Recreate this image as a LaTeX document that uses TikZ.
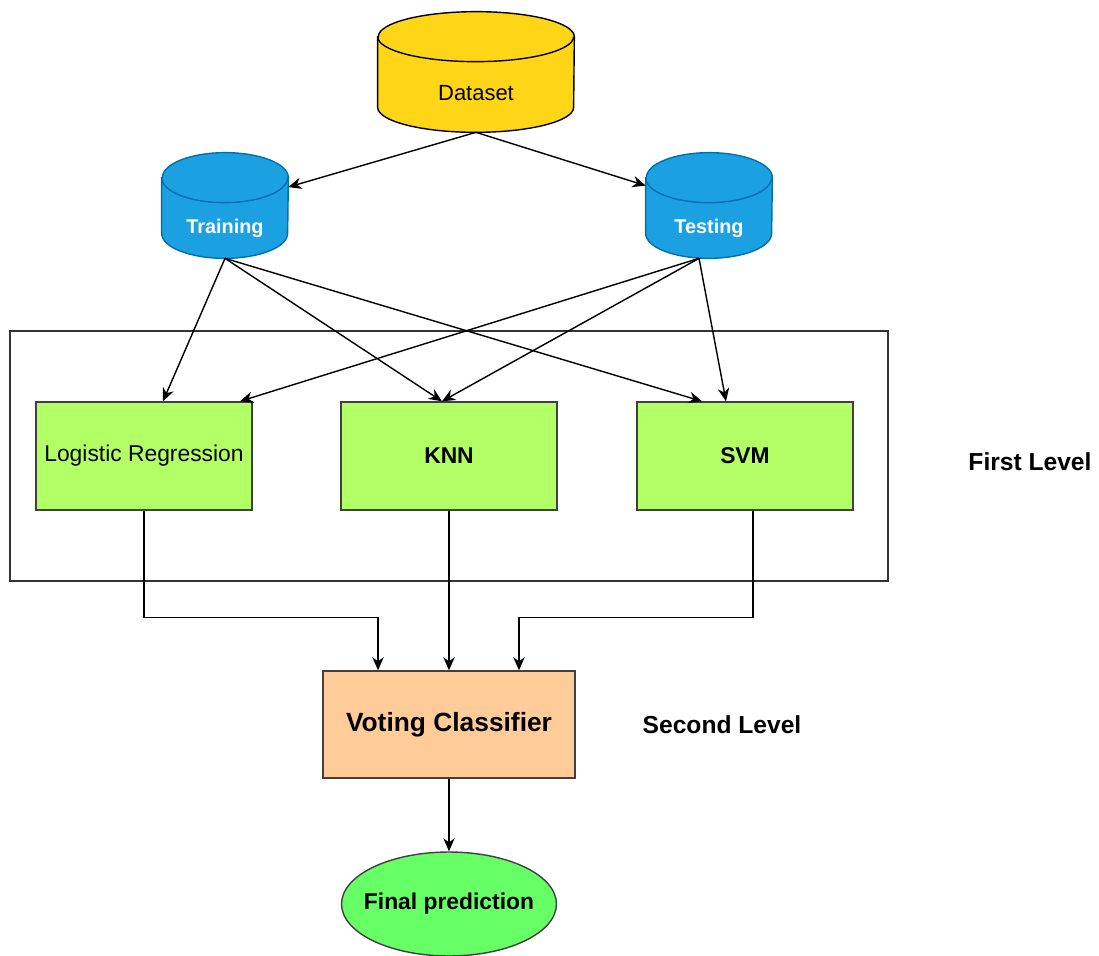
\documentclass[tikz,border=0pt]{standalone}
\usepackage{fontspec}
\setmainfont{Liberation Sans}
\usetikzlibrary{shapes.geometric, arrows.meta, positioning, calc, backgrounds}

\definecolor{dsyellow}{HTML}{FFD617}
\definecolor{splitblue}{HTML}{1BA1E2}
\definecolor{splitedge}{HTML}{006EAF}
\definecolor{modelgreen}{HTML}{B3FF66}
\definecolor{voteorange}{HTML}{FFCC99}
\definecolor{finalgreen}{HTML}{66FF66}

\begin{document}
\begin{tikzpicture}[x=0.02cm, y=-0.02cm,
        dbase/.style={rectangle, inner sep=0pt, minimum width=3.92cm, minimum height=2.4cm, text height=32pt, text depth=0pt, font=\fontsize{12.5}{14}\selectfont},
        split/.style={rectangle, inner sep=0pt, minimum width=2.52cm, minimum height=2.1cm, text height=31.5pt, text depth=0pt, text=white, font=\fontsize{11.3}{13}\selectfont\bfseries},
        model/.style={rectangle, draw=black!75, line width=0.8pt, fill=modelgreen, minimum width=4.32cm, minimum height=2.16cm, align=center, font=\fontsize{13}{15}\selectfont},
        vote/.style={rectangle, draw=black!75, line width=0.8pt, fill=voteorange, minimum width=5.04cm, minimum height=2.14cm, align=center, font=\fontsize{15}{18}\selectfont\bfseries},
        result/.style={ellipse, draw=black!75, line width=0.8pt, fill=finalgreen, inner xsep=-0.5cm, inner ysep=0pt, minimum width=4.3cm, minimum height=2.08cm, align=center, font=\fontsize{13}{15}\selectfont\bfseries},
        level/.style={font=\fontsize{14}{16}\selectfont\bfseries},
        arrow/.style={-{Stealth[length=7.5pt, width=6.5pt]}, line width=0.8pt}
    ]
        \useasboundingbox (0, 0) rectangle (1099, 956);

        % Data
        \node[dbase] (data) at (476, 72) {Dataset};
        \node[split] (train) at (225, 205.5) {Training};
        \node[split] (test) at (709, 205.5) {Testing};

        % Cylinders behind the data labels
        \begin{scope}[on background layer]
            \foreach \n/\rx/\col/\edge in {data/1.96cm/dsyellow/black, train/1.26cm/splitblue/splitedge, test/1.26cm/splitblue/splitedge} {
                \draw[line width=0.8pt, draw=\edge, fill=\col]
                    ([yshift=-0.5cm]\n.north west) -- ([yshift=0.5cm]\n.south west)
                    arc[start angle=180, end angle=360, x radius=\rx, y radius=0.5cm]
                    -- ([yshift=-0.5cm]\n.north east)
                    arc[start angle=0, end angle=180, x radius=\rx, y radius=0.5cm] -- cycle;
                \draw[line width=0.8pt, draw=\edge]
                    ([yshift=-0.5cm]\n.north west) arc[start angle=180, end angle=360, x radius=\rx, y radius=0.5cm];
            }
        \end{scope}

        % First level
        \draw[line width=0.8pt, draw=black!80] (10, 331) rectangle (888, 581);
        \node[model] (lr) at (144, 456) {Logistic Regression};
        \node[model, font=\fontsize{13}{15}\selectfont\bfseries] (knn) at (449, 456) {KNN};
        \node[model, font=\fontsize{13}{15}\selectfont\bfseries] (svm) at (745, 456) {SVM};
        \node[level] (first) at (1030, 462) {First Level};

        % Second level
        \node[vote] (vc) at (449, 724.5) {Voting Classifier};
        \node[level] (second) at (722, 725) {Second Level};
        \node[result] (final) at (449, 904) {Final prediction};

        % Split arrows
        \draw[arrow] (data.south) -- (train);
        \draw[arrow] (data.south) -- (test);

        % Training arrows
        \draw[arrow] (train.south) -- ([xshift=0.38cm]lr.north);
        \draw[arrow] (train.south) -- ([xshift=-0.14cm]knn.north);
        \draw[arrow] (train.south) -- ([xshift=-0.86cm]svm.north);

        % Testing arrows
        \draw[arrow] ([xshift=-0.2cm]test.south) -- ([xshift=1.92cm]lr.north);
        \draw[arrow] ([xshift=-0.2cm]test.south) -- ([xshift=-0.14cm]knn.north);
        \draw[arrow] ([xshift=-0.2cm]test.south) -- ([xshift=-0.38cm]svm.north);

        % Arrows to voting
        \draw[arrow] (lr.south) -- ++(0, 107) -| ([xshift=-1.42cm]vc.north);
        \draw[arrow] (knn.south) -- (vc.north);
        \draw[arrow] ([xshift=0.16cm]svm.south) -- ++(0, 107) -| ([xshift=1.4cm]vc.north);

        % Output
        \draw[arrow] (vc.south) -- (final.north);
    \end{tikzpicture}
\end{document}
